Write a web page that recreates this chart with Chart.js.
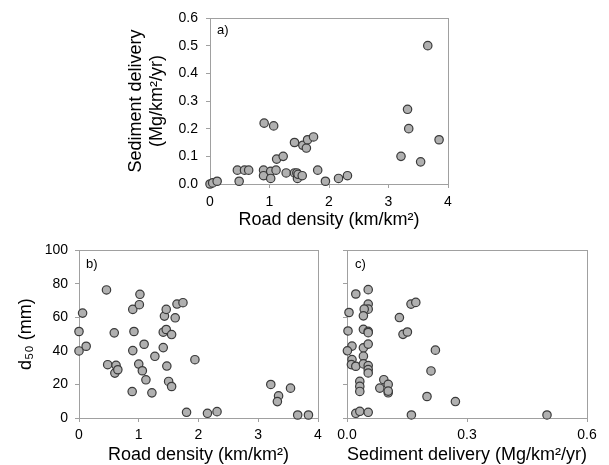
<!DOCTYPE html>
<html>
<head>
<meta charset="utf-8">
<script src="https://cdn.jsdelivr.net/npm/chart.js@4/dist/chart.umd.min.js"></script>
<style>
  html, body { margin: 0; padding: 0; background: #fff; width: 609px; height: 465px; overflow: hidden; }
  .wrap { position: absolute; }
  .lbl { position: absolute; font-family: "Liberation Sans", Arial, sans-serif; font-size: 13px; color: #000; line-height: 13px; }
</style>
</head>
<body>
<div class="wrap" style="left:100px;top:0px;width:370px;height:240px;"><canvas id="ca" width="370" height="240"></canvas></div>
<div class="wrap" style="left:0px;top:235px;width:330px;height:240px;"><canvas id="cb" width="330" height="240"></canvas></div>
<div class="wrap" style="left:330px;top:235px;width:279px;height:240px;"><canvas id="cc" width="279" height="240"></canvas></div>
<div class="lbl" style="left:217px;top:23px;">a)</div>
<div class="lbl" style="left:86px;top:257px;">b)</div>
<div class="lbl" style="left:355px;top:257px;">c)</div>
<script>
// ---- Data ----
// Panel a: road density (km/km2) vs sediment delivery (Mg/km2/yr)
const roadA = [0.0, 0.045, 0.12, 0.46, 0.49, 0.58, 0.65, 0.91, 1.07, 0.90, 0.90, 1.02, 1.02, 1.11, 1.12, 1.23, 1.28, 1.42, 1.42, 1.46, 1.47, 1.48, 1.55, 1.56, 1.62, 1.64, 1.74, 1.81, 1.94, 2.16, 2.31, 3.21, 3.32, 3.34, 3.54, 3.66, 3.85];
const sedA  = [0.0, 0.004, 0.01, 0.05, 0.01, 0.05, 0.05, 0.22, 0.21, 0.05, 0.03, 0.046, 0.02, 0.05, 0.09, 0.10, 0.04, 0.15, 0.04, 0.04, 0.02, 0.035, 0.03, 0.14, 0.13, 0.16, 0.17, 0.05, 0.01, 0.02, 0.03, 0.10, 0.27, 0.20, 0.08, 0.50, 0.16];
// Panel b: road density vs d50 (mm)
const roadB = [0.46, 0.06, 0.0, 0.0, 0.12, 0.48, 0.59, 0.62, 0.60, 0.65, 0.89, 0.90, 0.92, 0.90, 1.02, 1.01, 1.00, 1.06, 1.09, 1.12, 1.22, 1.27, 1.41, 1.43, 1.46, 1.41, 1.46, 1.47, 1.50, 1.55, 1.55, 1.61, 1.64, 1.74, 1.80, 1.94, 2.15, 2.31, 3.21, 3.34, 3.32, 3.54, 3.66, 3.84];
const d50B  = [76.4, 62.6, 51.6, 40, 42.8, 31.8, 50.8, 31.4, 26.8, 28.8, 15.8, 64.8, 51.6, 40.2, 73.8, 67.6, 32.2, 28.2, 44, 22.8, 15, 36.8, 42, 60.8, 64.8, 51.2, 52.8, 31, 21.8, 18.8, 49.8, 59.8, 68, 68.8, 3.4, 34.8, 2.8, 3.8, 20, 13.2, 9.8, 17.8, 1.8, 1.8];
// Panel c: sediment delivery vs d50 (mm)
const sedC = [0.053, 0.022, 0.053, 0.053, 0.043, 0.005, 0.041, 0.0025, 0.041, 0.053, 0.053, 0.0125, 0.041, 0.053, 0.001, 0.0125, 0.011, 0.022, 0.041, 0.041, 0.053, 0.053, 0.053, 0.032, 0.032, 0.032, 0.092, 0.082, 0.103, 0.103, 0.103, 0.022, 0.032, 0.053, 0.131, 0.140, 0.151, 0.160, 0.172, 0.221, 0.210, 0.200, 0.271, 0.161, 0.50];
const d50C = [76.4, 73.8, 67.8, 64.8, 64.8, 62.8, 60.8, 51.8, 52.8, 51.6, 50.8, 42.8, 41.8, 44, 40, 34.8, 31.8, 30.8, 36.8, 32.2, 31.2, 28.8, 26.8, 21.8, 18.8, 15.8, 22.8, 17.8, 20, 15, 16, 2.8, 4, 3.4, 59.8, 49.8, 51.2, 67.8, 68.8, 40.4, 28, 12.8, 9.8, 1.8, 1.8];

// Axis labels / ticks
const roadTitle = "Road density (km/km\u00B2)";
const sedTitleLines = ["Sediment delivery", "(Mg/km\u00B2/yr)"];
const sedTitleOneLine = "Sediment delivery (Mg/km\u00B2/yr)";
const d50Title = "d\u2085\u2080 (mm)";
const roadTicks = [0, 1, 2, 3, 4];
const sedTicksA = [0, 0.1, 0.2, 0.3, 0.4, 0.5, 0.6];
const sedTicksC = [0, 0.3, 0.6];
const d50Ticks = [0, 20, 40, 60, 80, 100];

// ---- Styling ----
const FONT = '"Liberation Sans", Arial, sans-serif';
const AXIS_GRAY = '#a0a0a0';

const framePlugin = {
  id: 'frame',
  beforeDatasetsDraw(chart) {
    const a = chart.chartArea, ctx = chart.ctx;
    ctx.save();
    ctx.strokeStyle = AXIS_GRAY;
    ctx.lineWidth = 1;
    ctx.strokeRect(Math.round(a.left) + 0.5, Math.round(a.top) + 0.5,
                   Math.round(a.right - a.left), Math.round(a.bottom - a.top));
    ctx.restore();
  }
};

function pts(xs, ys) { return xs.map((x, i) => ({ x: x, y: ys[i] })); }

function axis(opts) {
  const t = opts.ticks;
  return {
    type: 'linear',
    position: opts.position,
    min: t[0], max: t[t.length - 1],
    afterBuildTicks(scale) { scale.ticks = t.map(v => ({ value: v })); },
    afterFit(scale) {
      if (opts.position === 'left') scale.width = opts.size; else scale.height = opts.size;
    },
    border: { display: false },
    grid: { drawOnChartArea: false, drawTicks: true, tickLength: 4, color: AXIS_GRAY, lineWidth: 1 },
    ticks: {
      display: opts.showLabels !== false,
      padding: opts.pad,
      color: '#000',
      font: { family: FONT, size: 14 },
      maxRotation: 0,
      autoSkip: false,
      callback: opts.fmt
    },
    title: {
      display: !!opts.title,
      text: opts.title,
      color: '#000',
      font: { family: FONT, size: 18 },
      padding: opts.titlePad
    }
  };
}

function makeChart(id, xs, ys, xAxis, yAxis, padding) {
  return new Chart(document.getElementById(id), {
    type: 'scatter',
    data: {
      datasets: [{
        data: pts(xs, ys),
        backgroundColor: '#b0b0b0',
        borderColor: '#3a3a3a',
        borderWidth: 1.2,
        pointRadius: 4.2,
        pointHoverRadius: 4.2,
        clip: false
      }]
    },
    options: {
      responsive: false,
      animation: false,
      events: [],
      layout: { padding: padding },
      plugins: { legend: { display: false }, tooltip: { enabled: false }, title: { display: false } },
      scales: { x: xAxis, y: yAxis }
    },
    plugins: [framePlugin]
  });
}

const fmt0 = v => String(v);
const fmt1 = v => Number(v).toFixed(1);

// Panel a
makeChart('ca', roadA, sedA,
  axis({ position: 'bottom', ticks: roadTicks, size: 56, pad: 6, fmt: fmt0, title: roadTitle, titlePad: { top: 0, bottom: 9 } }),
  axis({ position: 'left', ticks: sedTicksA, size: 110, pad: 8, fmt: fmt1, title: sedTitleLines, titlePad: { top: 25, bottom: 0 } }),
  { left: 0, top: 18, right: 22, bottom: 0 });

// Panel b
makeChart('cb', roadB, d50B,
  axis({ position: 'bottom', ticks: roadTicks, size: 57, pad: 5, fmt: fmt0, title: roadTitle, titlePad: { top: 0, bottom: 9 } }),
  axis({ position: 'left', ticks: d50Ticks, size: 79, pad: 7, fmt: fmt0, title: d50Title, titlePad: { top: 15, bottom: 0 } }),
  { left: 0, top: 15, right: 12, bottom: 0 });

// Panel c
makeChart('cc', sedC, d50C,
  axis({ position: 'bottom', ticks: sedTicksC, size: 57, pad: 5, fmt: fmt1, title: sedTitleOneLine, titlePad: { top: 0, bottom: 9 } }),
  axis({ position: 'left', ticks: d50Ticks, size: 17, pad: 0, fmt: fmt0, showLabels: false }),
  { left: 0, top: 15, right: 22, bottom: 0 });
</script>
</body>
</html>
